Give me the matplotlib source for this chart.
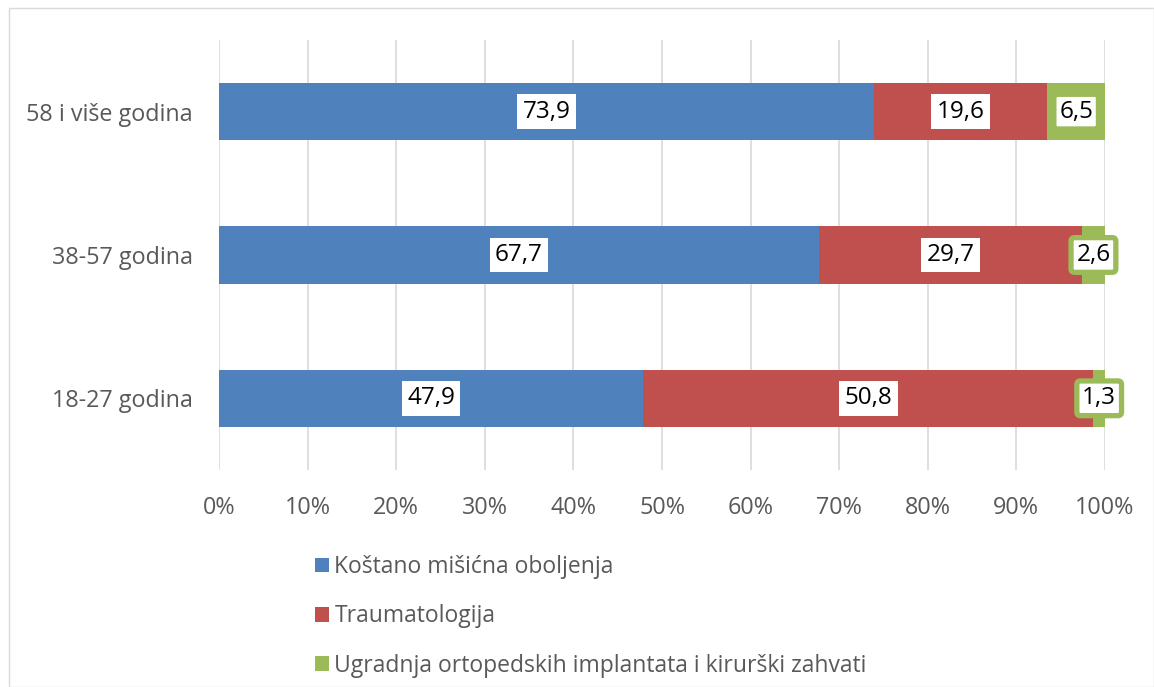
import matplotlib
matplotlib.use("Agg")
import matplotlib.pyplot as plt
from matplotlib.patches import Rectangle

plt.rcParams['font.family'] = ['Open Sans', 'DejaVu Sans']

categories = ["18-27 godina", "38-57 godina", "58 i više godina"]
series_names = ["Koštano mišićna oboljenja", "Traumatologija",
                "Ugradnja ortopedskih implantata i kirurški zahvati"]
kostano = [47.9, 67.7, 73.9]
trauma = [50.8, 29.7, 19.6]
ugradnja = [1.3, 2.6, 6.5]
xtick_labels = ["0%", "10%", "20%", "30%", "40%", "50%", "60%", "70%", "80%", "90%", "100%"]

colors = ["#4f81bd", "#c0504d", "#9bbb59"]
text_gray = "#595959"

fig = plt.figure(figsize=(11.54, 6.87), dpi=100)
ax = fig.add_axes([0.1898, 0.3159, 0.9575 - 0.1898, 0.9418 - 0.3159])

# border around chart area
fig.patches.append(Rectangle((0.008, 0.0), 0.992, 0.988, transform=fig.transFigure,
                             fill=False, edgecolor="#d9d9d9", linewidth=1.0))

y = list(range(len(categories)))
series = [kostano, trauma, ugradnja]
left = [0.0] * len(categories)
bars_all = []
for vals, col, name in zip(series, colors, series_names):
    bars = ax.barh(y, vals, left=left, height=0.4, color=col, label=name, zorder=2)
    bars_all.append((bars, vals, list(left), col))
    left = [l + v for l, v in zip(left, vals)]

for idx, (bars, vals, lefts, col) in enumerate(bars_all):
    for yi, v, l in zip(y, vals, lefts):
        cx = l + v / 2
        if idx == 2:
            bbox = dict(boxstyle="round,pad=0.22,rounding_size=0.15", facecolor="white",
                        edgecolor=col, linewidth=3.8)
        else:
            bbox = dict(boxstyle="square,pad=0.22", facecolor="white", edgecolor="none")
        ax.text(cx, yi, f"{v:.1f}".replace(".", ","), ha="center", va="center",
                fontsize=17.5, color="black", bbox=bbox, zorder=5)

ax.set_xlim(0, 100)
ax.set_ylim(-0.5, 2.5)
ax.set_xticks(range(0, 101, 10))
ax.set_xticklabels(xtick_labels)
ax.set_yticks(y)
ax.set_yticklabels(categories)
ax.tick_params(axis="both", length=0, labelsize=16.8, labelcolor=text_gray)
ax.tick_params(axis="y", pad=19)
ax.tick_params(axis="x", pad=19)
ax.grid(axis="x", color="#d9d9d9", linewidth=1.2, zorder=0)
ax.set_axisbelow(True)
for s in ax.spines.values():
    s.set_visible(False)

handles, labels = ax.get_legend_handles_labels()
leg = fig.legend(handles, labels, loc="upper left", bbox_to_anchor=(0.255, 0.222),
                 ncol=1, frameon=False, fontsize=16.5, handlelength=0.6, handleheight=0.6,
                 handletextpad=0.25, labelspacing=1.1, labelcolor=text_gray)

fig.savefig("out.png", dpi=100)
